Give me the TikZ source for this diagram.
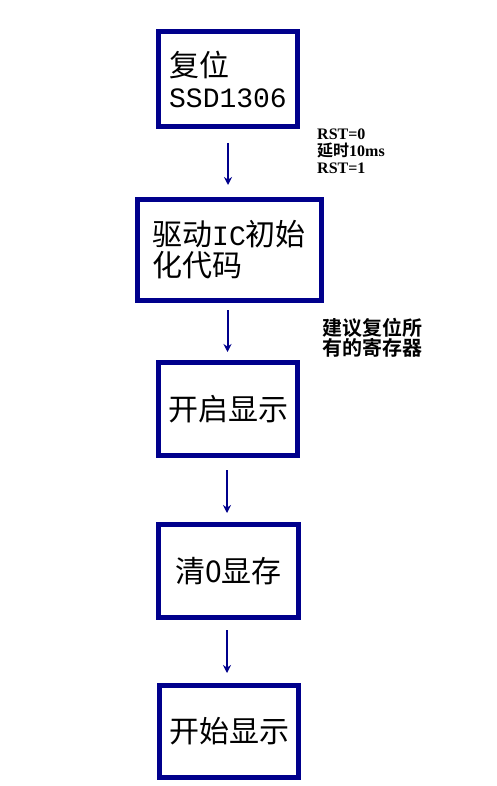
\documentclass[tikz,border=0pt]{standalone}
\usepackage{fontspec}
\setmainfont{Liberation Serif}
\newfontfamily\cjk{Noto Sans CJK SC}
\newfontfamily\cjkb{Noto Sans CJK SC}[BoldFont=* Bold]
\newfontfamily\lmono{Liberation Mono}
\usetikzlibrary{arrows.meta}
\definecolor{navy}{RGB}{0,0,140}
\tikzset{
  stepbox/.style={draw=navy, line width=5pt, fill=white, inner sep=0pt,
    align=left, font=\fontsize{30}{31}\selectfont\cjk},
  flow/.style={draw=navy, line width=2pt, -{Stealth[length=8pt,width=8pt]}},
  note/.style={inner sep=0pt, anchor=north west, align=left}
}
\begin{document}
\begin{tikzpicture}[x=1pt,y=-1pt]
\useasboundingbox (0,0) rectangle (497,786);
\node[stepbox, minimum width=139pt, minimum height=95pt] (b1) at (228,79)
  {复位\\{\fontsize{28}{31}\selectfont\lmono SSD1306}};
\node[stepbox, minimum width=184pt, minimum height=101pt] (b2) at (229,250)
  {驱动{\fontsize{28}{31}\selectfont\lmono IC}初始\\化代码};
\node[stepbox, minimum width=139pt, minimum height=93pt] (b3) at (228,409)
  {开启显示};
\node[stepbox, minimum width=140pt, minimum height=93pt] (b4) at (228.5,571)
  {清0显存};
\node[stepbox, minimum width=139pt, minimum height=92pt] (b5) at (229,731.5)
  {开始显示};
\draw[flow, shorten <=14pt, shorten >=12pt] (b1.south) -- (b1.south |- b2.north);
\draw[flow, shorten <=7pt, shorten >=8pt] ([xshift=-1.5pt]b2.south) -- ([xshift=-1.5pt]b2.south |- b3.north);
\draw[flow, shorten <=12pt, shorten >=9pt] ([xshift=-1pt]b3.south) -- ([xshift=-1pt]b3.south |- b4.north);
\draw[flow, shorten <=10pt, shorten >=10pt] ([xshift=-1.5pt]b4.south) -- ([xshift=-1.5pt]b4.south |- b5.north);
\node[note, font=\fontsize{16}{17}\selectfont\bfseries] (n1) at (317,129)
  {RST=0\\{\cjkb\bfseries 延时}10ms\\RST=1};
\node[note, font=\fontsize{20}{19}\selectfont\cjkb\bfseries] (n2) at (322,318)
  {建议复位所\\有的寄存器};
\end{tikzpicture}
\end{document}
